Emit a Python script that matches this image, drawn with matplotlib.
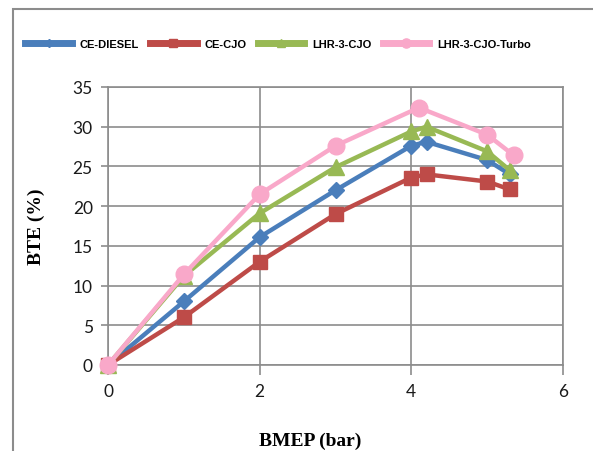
import matplotlib.pyplot as plt
from matplotlib.patches import Rectangle

# BMEP (bar) and BTE (%)
bmep = [0, 1, 2, 3, 4, 4.2, 5, 5.3]
bmep_turbo = [0, 1, 2, 3, 4.1, 5, 5.35]
ce_diesel = [0, 8.0, 16.1, 22.0, 27.6, 28.1, 25.8, 24.0]
ce_cjo = [0, 6.0, 13.0, 19.0, 23.6, 24.0, 23.1, 22.1]
lhr_cjo = [0, 11.2, 19.1, 24.9, 29.4, 30.0, 26.9, 24.5]
lhr_turbo = [0, 11.4, 21.5, 27.6, 32.4, 29.0, 26.4]

series = [
    ("CE-DIESEL", bmep, ce_diesel, "#4a7ebb", "D", 8),
    ("CE-CJO", bmep, ce_cjo, "#be4b48", "s", 10),
    ("LHR-3-CJO", bmep, lhr_cjo, "#98b954", "^", 11),
    ("LHR-3-CJO-Turbo", bmep_turbo, lhr_turbo, "#f9a8c9", "o", 12),
]

fig = plt.figure(figsize=(5.93, 4.52), dpi=100)
fig.patch.set_facecolor("white")

# outer chart frame (only left and top edges visible in the crop)
fig.patches.append(Rectangle((13 / 593, -0.2), 1.2, 1.2 - 10 / 452,
                             transform=fig.transFigure, fill=False,
                             edgecolor="#8c8c8c", linewidth=1.5))

ax = fig.add_axes([108 / 593, 86 / 452, 455 / 593, 278 / 452])

for label, x, y, color, marker, ms in series:
    ax.plot(x, y, color=color, linewidth=3.2, marker=marker, markersize=ms,
            label=label, clip_on=False, zorder=3)

ax.set_xlim(0, 6)
ax.set_ylim(0, 35)
ax.set_xticks([0, 2, 4, 6])
ax.set_yticks(range(0, 40, 5))

ax.grid(True, color="#8c8c8c", linewidth=1.2)
ax.set_axisbelow(True)
for s in ax.spines.values():
    s.set_color("#8c8c8c")
    s.set_linewidth(1.2)
ax.tick_params(axis="both", color="#8c8c8c", width=1.2, labelsize=12.5,
               labelcolor="#1a1a1a")
ax.tick_params(axis="x", length=7, pad=6)
ax.tick_params(axis="y", length=5, pad=6)
for t in ax.get_xticklabels() + ax.get_yticklabels():
    t.set_family("Lato")

ax.set_xlabel("BMEP (bar)", fontsize=14, fontweight="bold",
              family="Liberation Serif")
ax.xaxis.set_label_coords((310 - 108) / 455, -(433 - 366) / 278)
ax.set_ylabel("BTE (%)", fontsize=14, fontweight="bold",
              family="Liberation Serif")
ax.yaxis.set_label_coords(-(108 - 45) / 455, 0.5)

leg = fig.legend(loc="center", bbox_to_anchor=(278 / 593, 1 - 45 / 452),
                 ncol=4, frameon=False, handlelength=4.2, columnspacing=1.0,
                 handletextpad=0.7, markerscale=0.55,
                 prop={"family": "Liberation Sans", "weight": "bold",
                       "size": 8})
for h in leg.legend_handles:
    h.set_linewidth(5)

fig.savefig("out.png", dpi=100)
